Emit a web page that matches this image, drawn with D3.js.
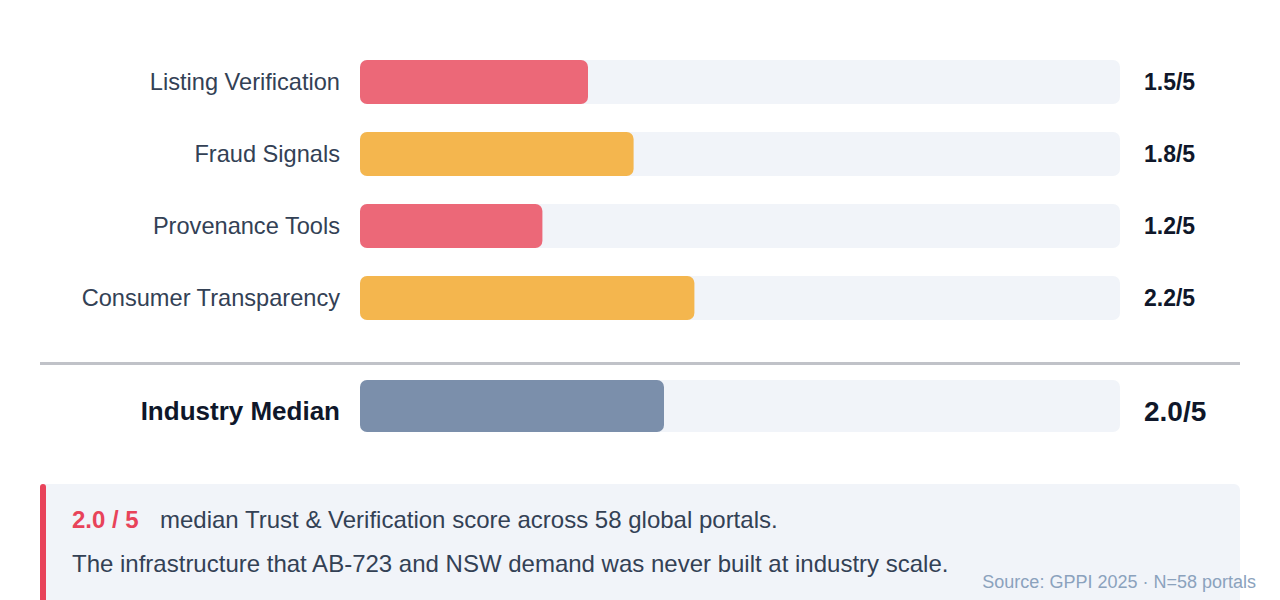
<!DOCTYPE html><html><head><meta charset="utf-8"><script src="https://cdn.jsdelivr.net/npm/d3@7"></script>
<style>body{margin:0;background:#fff;font-family:"Liberation Sans",Arial,sans-serif}</style></head><body><svg id="c" width="1280" height="600"></svg>
<script>
const categories=["Listing Verification","Fraud Signals","Provenance Tools","Consumer Transparency"];
const scores=[1.5,1.8,1.2,2.2];
const colors=["#ec6878","#f4b64e","#ec6878","#f4b64e"];
const medianLabel="Industry Median", medianScore=2.0, maxScore=5;
const svg=d3.select("#c");
const x=d3.scaleLinear().domain([0,maxScore]).range([360,1120]);
const y=d3.scaleBand().domain(categories).range([60,320]).paddingInner(28/72).paddingOuter(0);
categories.forEach((c,i)=>{
  const yy=y(c), h=y.bandwidth();
  svg.append("rect").attr("x",x(0)).attr("y",yy).attr("width",x(maxScore)-x(0)).attr("height",h).attr("rx",7).attr("fill","#f1f4f9");
  svg.append("rect").attr("x",x(0)).attr("y",yy).attr("width",x(scores[i])-x(0)).attr("height",h).attr("rx",7).attr("fill",colors[i]);
  svg.append("text").attr("x",340).attr("y",yy+h/2+8).attr("text-anchor","end").attr("font-size",23.6).attr("fill","#334155").text(c);
  svg.append("text").attr("x",1144).attr("y",yy+h/2+8).attr("font-size",23).attr("font-weight","bold").attr("fill","#0f172a").text(scores[i].toFixed(1)+"/"+maxScore);
});
svg.append("line").attr("x1",40).attr("x2",1240).attr("y1",363.5).attr("y2",363.5).attr("stroke","#c0c2c8").attr("stroke-width",3);
svg.append("rect").attr("x",x(0)).attr("y",380).attr("width",x(maxScore)-x(0)).attr("height",52).attr("rx",7).attr("fill","#f1f4f9");
svg.append("rect").attr("x",x(0)).attr("y",380).attr("width",x(medianScore)-x(0)).attr("height",52).attr("rx",7).attr("fill","#7b8fab");
svg.append("text").attr("x",340).attr("y",420).attr("text-anchor","end").attr("font-size",26).attr("font-weight","bold").attr("fill","#0f172a").text(medianLabel);
svg.append("text").attr("x",1144).attr("y",421).attr("font-size",28).attr("font-weight","bold").attr("fill","#0f172a").text(medianScore.toFixed(1)+"/"+maxScore);
svg.append("rect").attr("x",40).attr("y",484).attr("width",1200).attr("height",130).attr("rx",6).attr("fill","#f1f4f9");
svg.append("rect").attr("x",40).attr("y",484).attr("width",6).attr("height",130).attr("rx",3).attr("fill","#e8435a");
svg.append("text").attr("x",72).attr("y",528).attr("font-size",24).attr("font-weight","bold").attr("fill","#e8435a").text(medianScore.toFixed(1)+" / "+maxScore);
svg.append("text").attr("x",160).attr("y",528).attr("font-size",24).attr("fill","#334155").text("median Trust & Verification score across 58 global portals.");
svg.append("text").attr("x",72).attr("y",572).attr("font-size",24).attr("fill","#334155").text("The infrastructure that AB-723 and NSW demand was never built at industry scale.");
svg.append("text").attr("x",1256).attr("y",588).attr("text-anchor","end").attr("font-size",18).attr("fill","#8ba2bd").text("Source: GPPI 2025 · N=58 portals");
</script></body></html>
